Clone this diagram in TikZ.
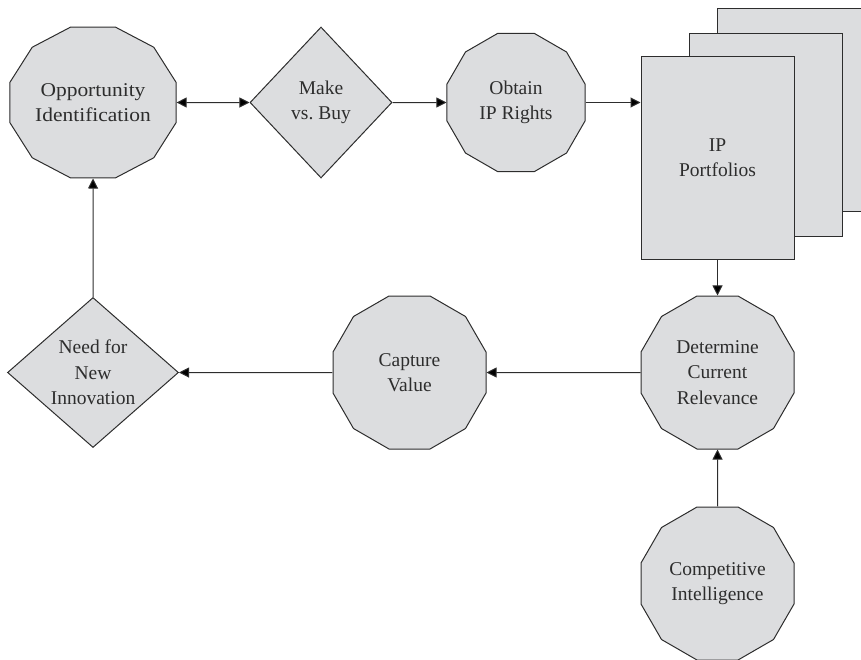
\documentclass[tikz,border=0pt]{standalone}
\usepackage{fontspec}
\setmainfont{Liberation Serif}
\usepackage{tikz}
\usetikzlibrary{shapes.geometric, arrows.meta, positioning, calc}

\definecolor{boxgray}{RGB}{220,221,223}
\definecolor{inkgray}{RGB}{45,45,45}

\tikzset{
    base/.style={draw=inkgray, fill=boxgray, line width=1pt, text=inkgray,
        align=center, inner sep=0pt, font=\fontsize{19.5}{25.5}\selectfont},
    dodec/.style={base, regular polygon, regular polygon sides=12},
    choice/.style={base, diamond},
    folio/.style={base, rectangle, minimum width=153pt, minimum height=203pt},
}

\begin{document}
\begin{tikzpicture}[x=1pt, y=-1pt, >={Triangle[length=10pt, width=10pt]}, line width=1pt]
        \useasboundingbox (0, 0) rectangle (861, 659);
        \clip (0, 0) rectangle (861, 659);

        \node[dodec, minimum size=156.3pt, xscale=1.1, transform shape] (opp) at (93, 102.5) {Opportunity\\Identification}; % opp
        \node[choice, minimum width=142pt, minimum height=151pt] (make) at (321, 102.5) {Make\\vs.\ Buy}; % make
        \node[dodec, minimum size=142.9pt] (obtain) at (516, 102.5) {Obtain\\IP Rights}; % obtain
        \node[folio] (back) at (793.5, 109.5) {}; % back sheet
        \node[folio] (mid) at (765.5, 134.5) {}; % middle sheet
        \node[folio] (port) at (717.5, 157.5) {IP\\Portfolios}; % front sheet
        \node[dodec, minimum size=158.4pt] (det) at (717.5, 372.5) {Determine\\Current\\Relevance}; % det
        \node[dodec, minimum size=158.4pt] (comp) at (717.5, 583.5) {Competitive\\Intelligence}; % comp
        \node[dodec, minimum size=158.4pt] (cap) at (409.5, 372.5) {Capture\\Value}; % cap
        \node[choice, minimum width=171pt, minimum height=150pt] (need) at (93, 372.5) {Need for\\New\\Innovation}; % need

        \draw[draw=inkgray]
            (opp) edge[<->] (make)
            (make) edge[->] (obtain)
            (obtain.east) edge[->] (obtain.east -| port.west)
            (port) edge[->] (det)
            (comp) edge[->] (det)
            (det) edge[->] (cap)
            (cap) edge[->] (need)
            (need) edge[->] (opp)
            ;
    \end{tikzpicture}
\end{document}
